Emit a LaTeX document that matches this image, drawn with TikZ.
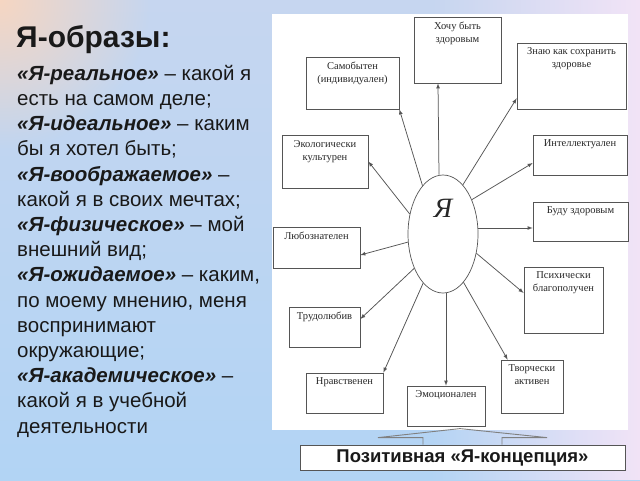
\documentclass[tikz,border=0pt]{standalone}
\usepackage{fontspec}
\setmainfont{Liberation Serif}
\setsansfont{Liberation Sans}
\usetikzlibrary{positioning,shapes.geometric,fadings}
\definecolor{colbgtop}{RGB}{198,214,240}
\definecolor{colbgmid}{RGB}{140,192,240}
\definecolor{colbgbot}{RGB}{178,212,244}
\definecolor{colpeach}{RGB}{246,214,194}
\definecolor{collilac}{RGB}{242,228,247}
\definecolor{colline}{RGB}{85,85,85}
\definecolor{coltrait}{RGB}{40,40,40}
\definecolor{coltext}{RGB}{25,25,25}
\tikzfading[name=fadePeach, inner color=transparent!0, outer color=transparent!100]
\tikzset{
  % LEFT TEXT
  frameTitle/.style={
    inner sep=0pt,
    text = coltext,
    font = \sffamily\bfseries\fontsize{30}{32}\selectfont
  },
  frameDesc/.style={
    inner sep=0pt,
    align = left,
    text = coltext,
    font = \sffamily\fontsize{20.5}{25.2}\selectfont
  },
  % TRAIT BOXES
  frameTrait/.style={
    rectangle,
    draw = colline,
    line width = 0.7pt,
    fill = white,
    inner sep = 0pt
  },
  traitText/.style={
    anchor = north,
    inner sep = 0pt,
    align = center,
    text = coltrait,
    font = \fontsize{10.5}{13}\selectfont
  },
  % SELF
  frameSelf/.style={
    ellipse,
    draw = colline,
    line width = 0.7pt,
    fill = white,
    inner sep = 0pt,
    minimum width = 70pt,
    minimum height = 118pt
  },
  % CONCEPT BOX
  frameConcept/.style={
    rectangle,
    draw = colline,
    line width = 0.8pt,
    fill = white,
    minimum width = 325pt,
    minimum height = 25pt,
    text = coltext,
    font = \sffamily\bfseries\fontsize{18.5}{20}\selectfont
  },
  % ARROWS
  lineArrow/.style={
    draw = colline, line width = 0.75pt, -latex
  },
  lineBlock/.style={
    draw = colline!75, line width = 0.9pt, line join = miter
  }
}

\begin{document}
\begin{tikzpicture}[x=1pt,y=-1pt]

\useasboundingbox (0,0) rectangle (640,480) ;

% background
\shade [top color=colbgtop, middle color=colbgmid, bottom color=colbgbot] (0,0) rectangle (640,480) ;
\fill [colpeach, path fading=fadePeach] (0,0) circle (150) ;
\fill [collilac, path fading=west] (430,0) rectangle (640,480) ;
\fill [white] (272,14) rectangle (628,430) ;

% Left text
\node [frameTitle, anchor=base west] (titleText) at (16,47) {Я-образы:} ;
\node [frameDesc, anchor=base west] (descText) at (17,433) {%
\textbf{\textit{«Я-реальное»}} – какой я\\
есть на самом деле;\\
\textbf{\textit{«Я-идеальное»}} – каким\\
бы я хотел быть;\\
\textbf{\textit{«Я-воображаемое»}} –\\
какой я в своих мечтах;\\
\textbf{\textit{«Я-физическое»}} – мой\\
внешний вид;\\
\textbf{\textit{«Я-ожидаемое»}} – каким,\\
по моему мнению, меня\\
воспринимают\\
окружающие;\\
\textbf{\textit{«Я-академическое»}} –\\
какой я в учебной\\
деятельности} ;

% Self in the middle
\node [frameSelf] (ya) at (443,234) {} ;
\node [font=\itshape\fontsize{28}{28}\selectfont, text=coltrait] (yaText) at (443,208) {Я} ;

% Trait boxes
\node [frameTrait, minimum width=87pt, minimum height=66pt] (hochu) at (457.5,50) {} ;
\node [frameTrait, minimum width=93pt, minimum height=52pt] (samob) at (352.5,83) {} ;
\node [frameTrait, minimum width=109pt, minimum height=66pt] (znayu) at (571.5,76) {} ;
\node [frameTrait, minimum width=86pt, minimum height=53pt] (eco) at (325,161.5) {} ;
\node [frameTrait, minimum width=94pt, minimum height=40pt] (intel) at (580,155) {} ;
\node [frameTrait, minimum width=95pt, minimum height=39pt] (budu) at (580.5,221.5) {} ;
\node [frameTrait, minimum width=87pt, minimum height=41pt] (lyub) at (316.5,247.5) {} ;
\node [frameTrait, minimum width=79pt, minimum height=66pt] (psy) at (563.5,300) {} ;
\node [frameTrait, minimum width=71pt, minimum height=40pt] (trud) at (324.5,327) {} ;
\node [frameTrait, minimum width=77pt, minimum height=40pt] (nrav) at (344.5,393) {} ;
\node [frameTrait, minimum width=78pt, minimum height=40pt] (emo) at (446,406) {} ;
\node [frameTrait, minimum width=62pt, minimum height=53pt] (tvor) at (532,386.5) {} ;

% Trait texts
\node [traitText] (hochuText) at ([yshift=-5pt]hochu.north) {Хочу быть\\здоровым} ;
\node [traitText] (samobText) at ([yshift=-5pt]samob.north) {Самобытен\\(индивидуален)} ;
\node [traitText] (znayuText) at ([yshift=-5pt]znayu.north) {Знаю как сохранить\\здоровье} ;
\node [traitText] (ecoText) at ([yshift=-6pt]eco.north) {Экологически\\культурен} ;
\node [traitText] (intelText) at ([yshift=-5pt]intel.north) {Интеллектуален} ;
\node [traitText] (buduText) at ([yshift=-5pt]budu.north) {Буду здоровым} ;
\node [traitText] (lyubText) at ([yshift=-5pt]lyub.north) {Любознателен} ;
\node [traitText] (psyText) at ([yshift=-5pt]psy.north) {Психически\\благополучен} ;
\node [traitText] (trudText) at ([yshift=-5pt]trud.north) {Трудолюбив} ;
\node [traitText] (nravText) at ([yshift=-5pt]nrav.north) {Нравственен} ;
\node [traitText] (emoText) at ([yshift=-5pt]emo.north) {Эмоционален} ;
\node [traitText] (tvorText) at ([yshift=-5pt]tvor.north) {Творчески\\активен} ;

% Arrows from the self
\path [lineArrow] ([xshift=-4pt]ya.north) -- ([xshift=-19.5pt]hochu.south) ;
\path [lineArrow] (ya.113) -- (samob.south east) ;
\path [lineArrow] (ya.68) -- ([yshift=11pt]znayu.south west) ;
\path [lineArrow] (ya.149) -- (eco.east) ;
\path [lineArrow] (ya.50) -- ([yshift=-8pt]intel.west) ;
\path [lineArrow] ([yshift=6pt]ya.east) -- ([yshift=-6.5pt]budu.west) ;
\path [lineArrow] (ya.193) -- ([yshift=-7.5pt]lyub.east) ;
\path [lineArrow] (ya.330) -- ([yshift=7pt]psy.west) ;
\path [lineArrow] (ya.230) -- ([yshift=8pt]trud.east) ;
\path [lineArrow] (ya.248) -- (nrav.north east) ;
\path [lineArrow] (ya.south -| emo.north) -- (emo.north) ;
\path [lineArrow] (ya.293) -- ([xshift=7pt]tvor.north west) ;

% Concept box and block arrow
\node [frameConcept] (concept) at (462.5,457.5) {Позитивная «Я-концепция»} ;
\path [lineBlock] ([xshift=-39.5pt]concept.north) -- ++(0,-7) -- ++(-45,0) -- ++(82,-9) -- ++(87,9) -- ++(-45,0) -- ++(0,7) ;

\end{tikzpicture}
\end{document}
